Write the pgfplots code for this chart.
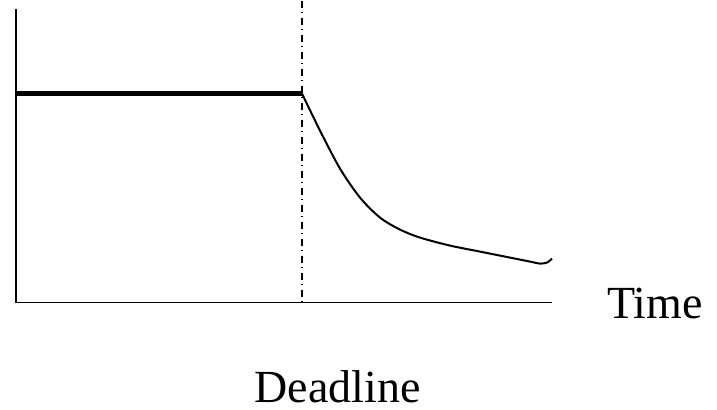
\documentclass[border=0pt]{standalone}
\usepackage{pgfplots}
\pgfplotsset{compat=1.18}
\usepackage{fontspec}
\setmainfont{Liberation Serif}
\begin{document}
\begin{tikzpicture}
\begin{axis}[
  scale only axis, width=358.5pt, height=204.5pt,
  xmin=0, xmax=717, ymin=0, ymax=409,
  hide axis, clip=false]
\path[draw=none] (rel axis cs:0,0) rectangle (rel axis cs:1,1);
% axes
\addplot[black, line width=0.9pt] coordinates {(16,401) (16,107)};
\addplot[black, line width=0.9pt] coordinates {(16,107) (552,107)};
% deadline
\addplot[black, line width=0.6pt, dash pattern=on 3.5pt off 2.2pt on 0.6pt off 2.2pt] coordinates {(302,409) (302,107)};
% flat thick line
\addplot[black, line width=2.1pt] coordinates {(16,316) (302,316)};
% decay curve
\addplot[black, line width=1pt, smooth] coordinates {
(302,316) (320,279) (340,241) (360,212) (380,192) (400,180) (420,172) (450,164) (480,158) (510,152) (530,148) (540,146) (547,147) (552,151)};
\node[anchor=base, inner sep=0pt, font=\fontsize{23pt}{26pt}\selectfont] at (axis cs:655,91) {Time};
\node[anchor=base, inner sep=0pt, font=\fontsize{23pt}{26pt}\selectfont] at (axis cs:337.5,7) {Deadline};
\end{axis}
\end{tikzpicture}
\end{document}
